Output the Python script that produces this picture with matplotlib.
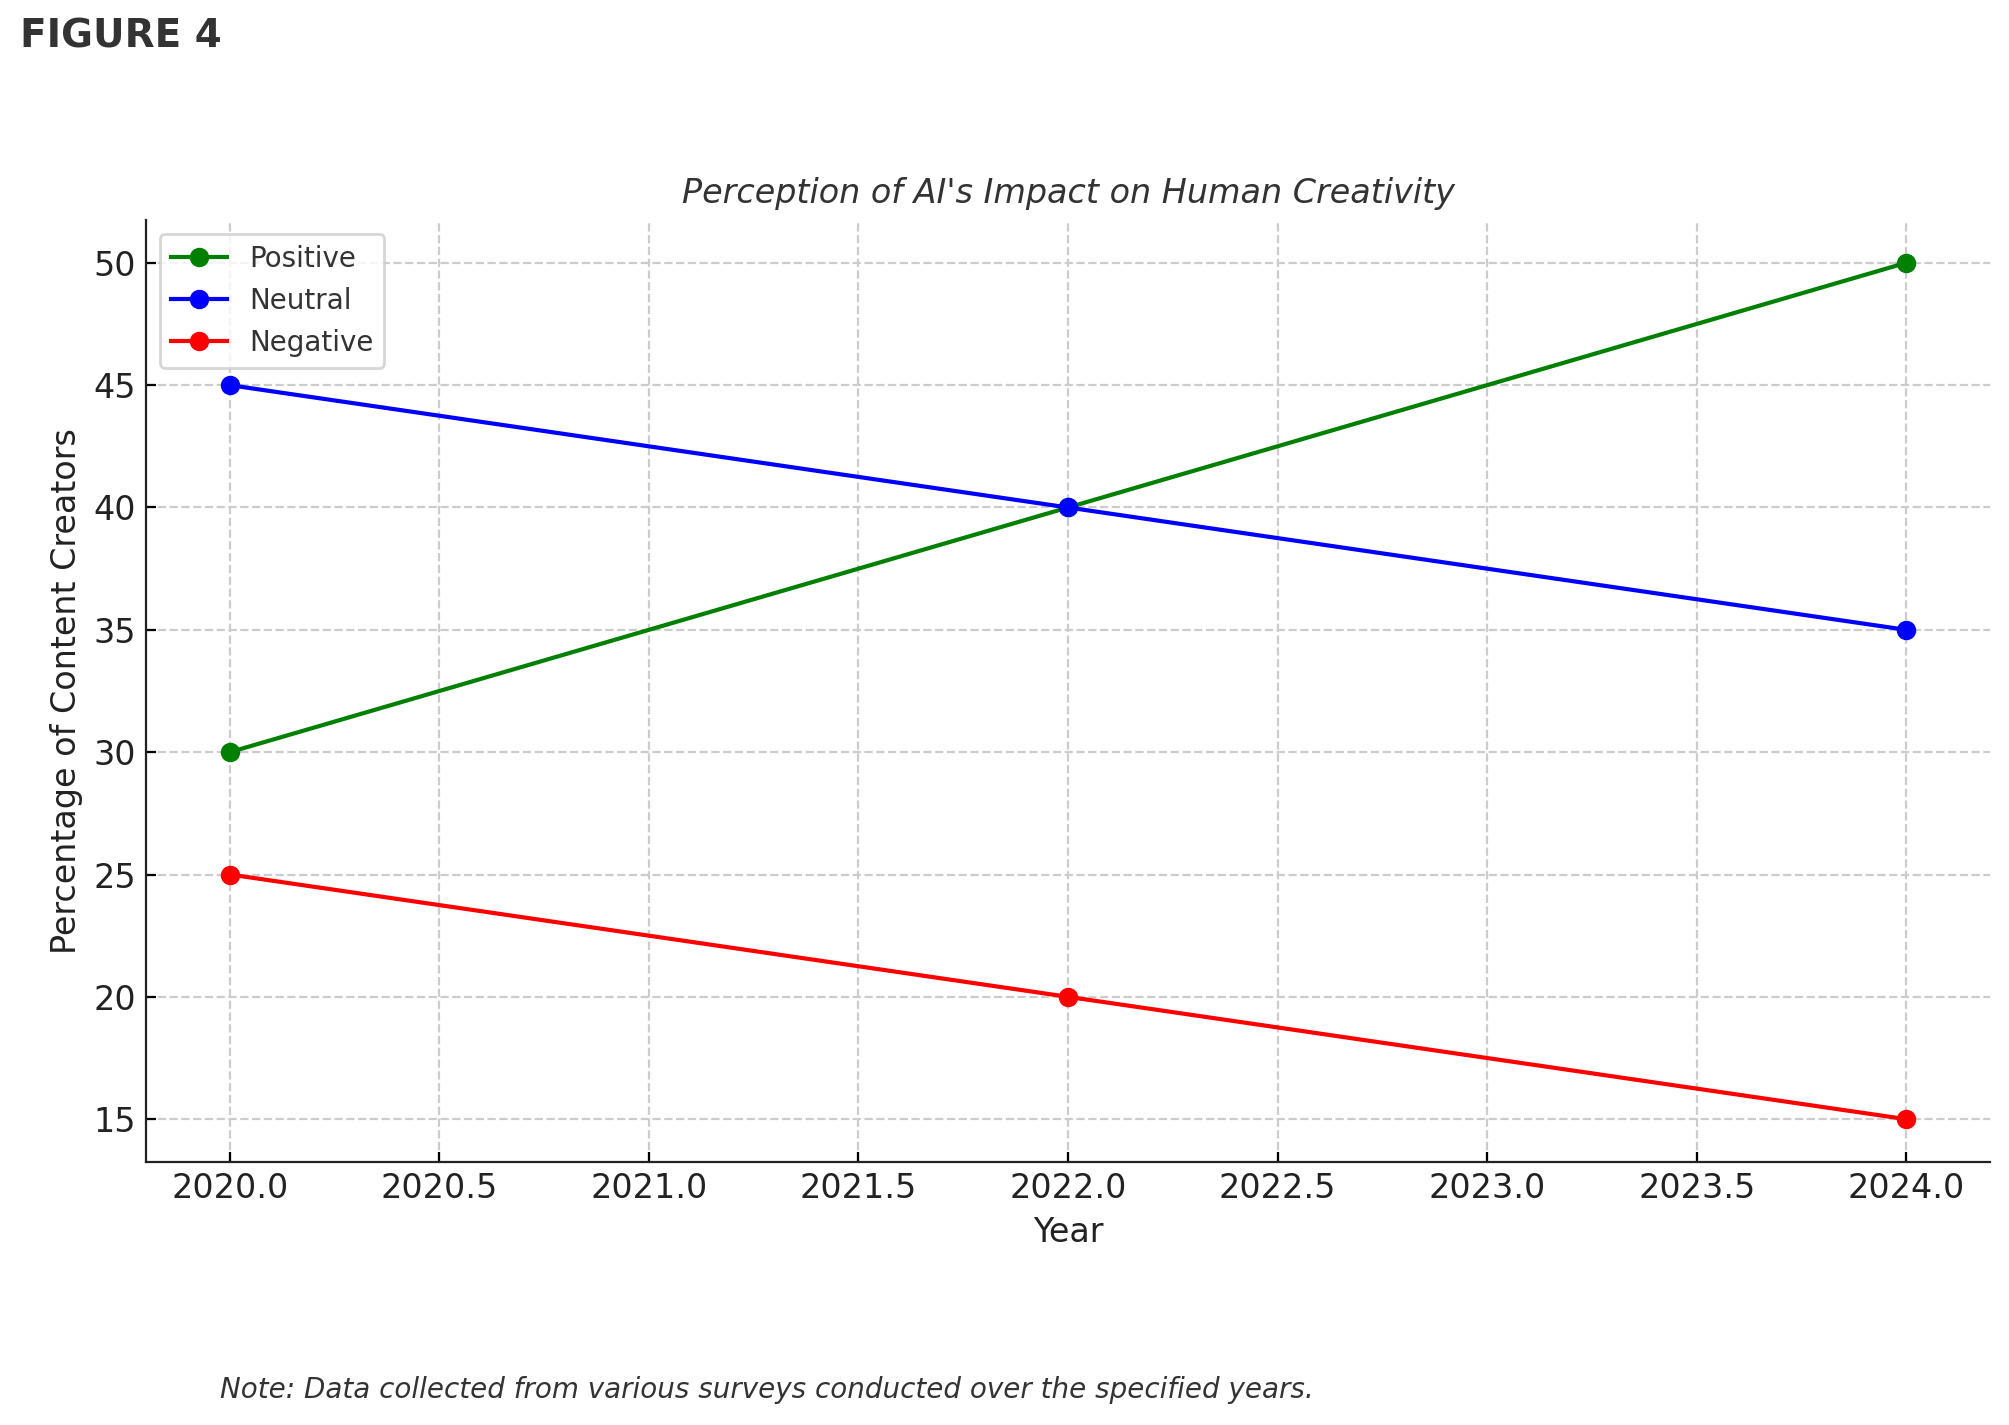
import matplotlib
matplotlib.use("Agg")
import matplotlib.pyplot as plt

years = [2020, 2022, 2024]
positive = [30, 40, 50]
neutral = [45, 40, 35]
negative = [25, 20, 15]

fig = plt.figure(figsize=(10.045, 7.125), dpi=200)
ax = fig.add_axes([146/2009, 1-1162/1425, (1990-146)/2009, (1162-220)/1425])

ax.plot(years, positive, marker='o', color='green', label='Positive', linewidth=1.5)
ax.plot(years, neutral, marker='o', color='blue', label='Neutral', linewidth=1.5)
ax.plot(years, negative, marker='o', color='red', label='Negative', linewidth=1.5)

ax.set_title("Perception of AI's Impact on Human Creativity", fontsize=12, style='italic', color='#333333')
ax.set_xlabel('Year', fontsize=12, color='#222222')
ax.set_ylabel('Percentage of Content Creators', fontsize=12, color='#222222')
ax.tick_params(direction='in', labelsize=12, labelcolor='#222222')
ax.grid(True, linestyle='--', color='#cccccc', linewidth=0.8)
for s in ['top', 'right']:
    ax.spines[s].set_visible(False)
ax.spines['left'].set_color('#222222')
ax.spines['bottom'].set_color('#222222')
leg = ax.legend(loc='upper left', fontsize=10, labelcolor='#333333')

fig.text(20/2009, 1-36/1425, 'FIGURE 4', fontsize=14, fontweight='bold', color='#333333', va='center', ha='left')
fig.text(220/2009, 1-1390/1425, 'Note: Data collected from various surveys conducted over the specified years.',
         fontsize=10, style='italic', color='#333333', va='center', ha='left')

fig.savefig('out.png', dpi=200)
